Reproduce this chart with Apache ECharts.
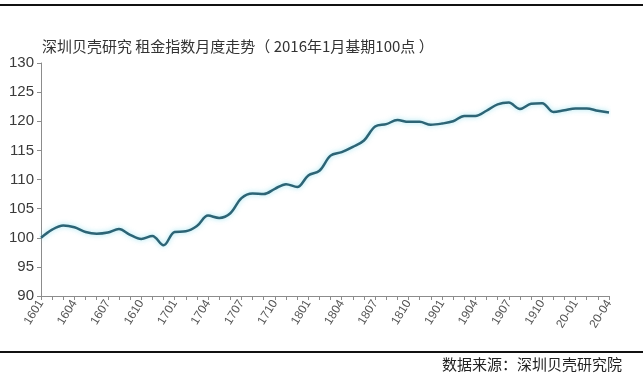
<!DOCTYPE html>
<html>
<head>
<meta charset="utf-8">
<script src="https://cdn.jsdelivr.net/npm/echarts@6/dist/echarts.min.js"></script>
<style>
html,body{margin:0;padding:0;background:#fff;}
#c{width:643px;height:375px;}
</style>
</head>
<body>
<div id="c"></div>
<script>
var months = [
  '1601','1602','1603','1604','1605','1606','1607','1608','1609','1610','1611','1612',
  '1701','1702','1703','1704','1705','1706','1707','1708','1709','1710','1711','1712',
  '1801','1802','1803','1804','1805','1806','1807','1808','1809','1810','1811','1812',
  '1901','1902','1903','1904','1905','1906','1907','1908','1909','1910','1911','1912',
  '20-01','20-02','20-03','20-04'
];
var rentIndex = [
  100.0, 101.4, 102.1, 101.8, 101.0, 100.7, 100.9, 101.5, 100.5, 99.8, 100.3, 98.7,
  101.0, 101.1, 102.0, 103.8, 103.4, 104.2, 106.8, 107.6, 107.5, 108.4, 109.2, 108.7,
  110.7, 111.5, 114.1, 114.7, 115.6, 116.7, 119.1, 119.5, 120.2, 119.9, 119.9, 119.4,
  119.6, 120.0, 120.9, 120.9, 121.8, 122.9, 123.2, 122.1, 123.0, 123.1, 121.6, 121.9,
  122.2, 122.2, 121.8, 121.5
];
var titleText = '深圳贝壳研究 租金指数月度走势（ 2016年1月基期100点 ）';
var sourceText = '数据来源：深圳贝壳研究院';

var chart = echarts.init(document.getElementById('c'), null, {renderer:'canvas'});
chart.setOption({
  backgroundColor:'#fff',
  animation:false,
  title:{
    text:titleText,
    left:37, top:34,
    textStyle:{fontSize:15, fontWeight:'normal', color:'#333', fontFamily:'Noto Sans CJK SC'}
  },
  grid:{left:41, right:34, top:63, bottom:79},
  xAxis:{
    type:'category',
    data:months,
    boundaryGap:false,
    axisLine:{lineStyle:{color:'#8c8c8c', width:1}},
    axisTick:{show:true, interval:0, length:4, lineStyle:{color:'#8c8c8c'}},
    axisLabel:{
      interval:2, rotate:58, fontSize:12, color:'#555', margin:5,
      fontFamily:'Liberation Sans'
    },
    splitLine:{show:false}
  },
  yAxis:{
    type:'value',
    min:90, max:130, interval:5,
    axisLine:{show:true, lineStyle:{color:'#8c8c8c', width:1}},
    axisTick:{show:true, length:4, lineStyle:{color:'#8c8c8c'}},
    axisLabel:{fontSize:15, color:'#3a3a3a', margin:7, fontFamily:'Liberation Sans'},
    splitLine:{show:false}
  },
  series:[{
    type:'line',
    data:rentIndex,
    smooth:0.35,
    symbol:'none',
    lineStyle:{color:'#2d6475', width:2.5, shadowColor:'rgba(110,215,235,0.7)', shadowBlur:5}
  }],
  graphic:[
    {type:'rect', shape:{x:0, y:4, width:643, height:2}, style:{fill:'#111'}},
    {type:'rect', shape:{x:0, y:351, width:643, height:2}, style:{fill:'#111'}},
    {type:'text', right:21, top:357, style:{text:sourceText, fontSize:15, fill:'#222', fontFamily:'Noto Sans CJK SC'}}
  ]
});
</script>
</body>
</html>
